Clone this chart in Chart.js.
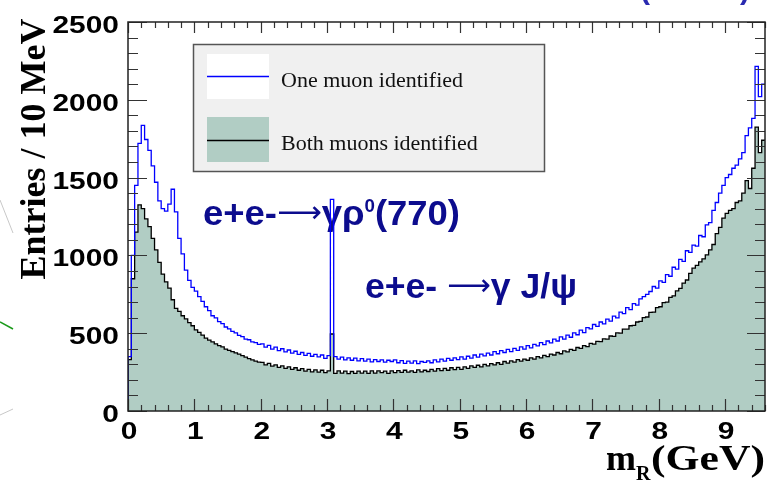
<!DOCTYPE html>
<html>
<head>
<meta charset="utf-8">
<script src="https://cdn.jsdelivr.net/npm/chart.js@4.4.1/dist/chart.umd.min.js"></script>
<style>
  html, body { margin: 0; padding: 0; background: #fff; }
</style>
</head>
<body>
<canvas id="massChart" width="768" height="481"></canvas>
<script>
// bins of 50 MeV from 0 to 9.6 GeV
const binWidth = 0.05;
const xMax = 9.6;

const oneMuon = [
  350, 1000, 1450, 1720, 1835, 1745, 1675, 1575, 1470, 1350,
  1300, 1285, 1330, 1425, 1280, 1110, 1010, 905, 840, 795,
  770, 735, 705, 670, 645, 612, 598, 575, 562, 540,
  528, 512, 502, 486, 478, 462, 458, 444, 440, 428,
  432, 410, 422, 398, 410, 388, 400, 380, 392, 372,
  384, 364, 376, 358, 370, 352, 364, 348, 360, 338,
  356, 1360, 350, 334, 346, 328, 342, 326, 340, 322,
  336, 320, 334, 316, 330, 318, 328, 314, 326, 318,
  328, 310, 324, 306, 320, 308, 322, 304, 318, 312,
  322, 310, 328, 316, 334, 320, 338, 326, 342, 330,
  348, 334, 352, 340, 360, 346, 366, 354, 372, 360,
  382, 368, 388, 376, 396, 382, 402, 390, 412, 398,
  420, 406, 428, 418, 440, 426, 450, 438, 462, 450,
  476, 462, 488, 474, 502, 490, 520, 504, 536, 528,
  556, 544, 572, 560, 590, 578, 610, 598, 636, 626,
  664, 652, 690, 680, 720, 735, 750, 768, 800, 790,
  836, 826, 876, 866, 924, 912, 974, 962, 1030, 1020,
  1066, 1060, 1128, 1120, 1196, 1210, 1290, 1340, 1400, 1450,
  1500, 1520, 1560, 1580, 1620, 1660, 1770, 1820, 1880, 2215,
  2020, 2100
];

const bothMuons = [
  330, 850, 1150, 1325, 1300, 1235, 1185, 1110, 1035, 955,
  880, 830, 790, 715, 660, 640, 612, 592, 568, 548,
  522, 505, 488, 468, 455, 444, 432, 420, 412, 398,
  390, 382, 374, 366, 356, 346, 336, 328, 320, 314,
  312, 296, 306, 288, 296, 280, 290, 274, 284, 268,
  278, 262, 272, 256, 268, 252, 264, 250, 262, 246,
  258, 495, 242, 258, 244, 256, 240, 254, 242, 256,
  244, 256, 242, 258, 244, 258, 246, 256, 242, 258,
  246, 260, 248, 262, 250, 258, 248, 264, 252, 262,
  254, 268, 256, 272, 260, 274, 262, 278, 266, 280,
  268, 284, 274, 290, 280, 294, 284, 300, 290, 304,
  296, 310, 300, 318, 308, 322, 314, 330, 320, 334,
  326, 342, 334, 350, 342, 358, 350, 366, 360, 376,
  368, 386, 380, 396, 390, 408, 402, 420, 414, 434,
  430, 448, 446, 464, 462, 482, 480, 502, 500, 526,
  526, 548, 550, 572, 576, 600, 604, 634, 636, 664,
  670, 696, 700, 730, 740, 772, 788, 822, 842, 884,
  918, 936, 958, 978, 1004, 1036, 1070, 1140, 1180, 1240,
  1270, 1290, 1300, 1340, 1350, 1400, 1480, 1430, 1560, 1825,
  1660, 1740
];

const xTickLabels = [0, 1, 2, 3, 4, 5, 6, 7, 8, 9];
const yTickLabels = [0, 500, 1000, 1500, 2000, 2500];
const seriesNames = ['One muon identified', 'Both muons identified'];

const BLUE = '#0000ff';
const FILL = '#b1cdc4';
const NAVY = '#0c0c8e';

function toSteps(values) {
  const pts = [{ x: 0, y: 0 }];
  values.forEach((v, i) => pts.push({ x: +(i * binWidth).toFixed(3), y: v }));
  pts.push({ x: xMax, y: values[values.length - 1] });
  return pts;
}

// draws text squeezed/stretched horizontally so it spans a given width
function drawFitted(ctx, parts, left, baseline, width, color) {
  ctx.save();
  let total = 0;
  parts.forEach(p => {
    ctx.font = p.font;
    p.w = ctx.measureText(p.text).width;
    total += p.w;
  });
  const sx = width ? width / total : 1;
  ctx.translate(left, baseline);
  ctx.scale(sx, 1);
  ctx.fillStyle = color;
  ctx.textAlign = 'left';
  ctx.textBaseline = 'alphabetic';
  let cx = 0;
  parts.forEach(p => {
    ctx.font = p.font;
    ctx.fillText(p.text, cx, p.dy || 0);
    cx += p.w;
  });
  ctx.restore();
}

function drawStretched(ctx, text, x, y, font, sx, align) {
  ctx.save();
  ctx.font = font;
  const w = ctx.measureText(text).width * sx;
  let left = x;
  if (align === 'right') left = x - w;
  if (align === 'center') left = x - w / 2;
  ctx.translate(left, y);
  ctx.scale(sx, 1);
  ctx.fillStyle = '#000';
  ctx.textAlign = 'left';
  ctx.fillText(text, 0, 0);
  ctx.restore();
}

const decorPlugin = {
  id: 'decor',
  beforeDatasetsDraw(chart) {
    const ctx = chart.ctx;
    const big = 'bold 35px "Liberation Sans", Arial, sans-serif';
    const arrow = '30px "DejaVu Sans", sans-serif';
    drawFitted(ctx, [
      { text: 'e+e-', font: big },
      { text: '\u27f6', font: arrow, dy: -3 },
      { text: '\u03b3\u03c1', font: big },
      { text: '0', font: 'bold 18px "Liberation Sans", Arial, sans-serif', dy: -13 },
      { text: '(770)', font: big }
    ], 203, 225, 257, NAVY);
    drawFitted(ctx, [
      { text: 'e+e- ', font: big },
      { text: '\u27f6', font: arrow, dy: -3 },
      { text: '\u03b3 J/\u03c8', font: big }
    ], 365, 298, 212, NAVY);
  },
  afterDatasetsDraw(chart) {
    const ctx = chart.ctx;
    const a = chart.chartArea;
    const xs = chart.scales.x, ys = chart.scales.y;
    ctx.save();
    ctx.strokeStyle = '#333';
    ctx.lineWidth = 1.2;
    ctx.beginPath();
    // x ticks, bottom and top
    for (let i = 0; i < xTickLabels.length; i++) {
      for (let k = 0; k < 5; k++) {
        const v = xTickLabels[i] + k * 0.2;
        if (v > xMax) break;
        const px = Math.round(xs.getPixelForValue(v)) + 0.5;
        const len = k === 0 ? 12 : 6;
        ctx.moveTo(px, a.bottom); ctx.lineTo(px, a.bottom - len);
        ctx.moveTo(px, a.top); ctx.lineTo(px, a.top + (k === 0 ? 11 : 6));
      }
    }
    // y ticks, left and right
    for (let i = 0; i < yTickLabels.length; i++) {
      for (let k = 0; k < 5; k++) {
        const v = yTickLabels[i] + k * 100;
        if (v > 2500) break;
        const py = Math.round(ys.getPixelForValue(v)) + 0.5;
        const len = k === 0 ? 19 : 10;
        ctx.moveTo(a.left, py); ctx.lineTo(a.left + len, py);
        ctx.moveTo(a.right, py); ctx.lineTo(a.right - (k === 0 ? 18 : 10), py);
      }
    }
    ctx.stroke();
    ctx.strokeStyle = '#222';
    ctx.lineWidth = 1.5;
    ctx.strokeRect(a.left, a.top, a.right - a.left, a.bottom - a.top);
    ctx.restore();
  },
  afterDraw(chart) {
    const ctx = chart.ctx;
    const xs = chart.scales.x, ys = chart.scales.y;
    const tickFont = 'bold 23px "Liberation Sans", Arial, sans-serif';
    ctx.save();
    ctx.textBaseline = 'alphabetic';
    yTickLabels.forEach(v => {
      drawStretched(ctx, String(v), 119, ys.getPixelForValue(v) + 11, tickFont, 1.3, 'right');
    });
    xTickLabels.forEach(v => {
      drawStretched(ctx, String(v), xs.getPixelForValue(v) + 1, 439, tickFont, 1.3, 'center');
    });

    // axis titles
    ctx.save();
    ctx.translate(45, 149);
    ctx.rotate(-Math.PI / 2);
    ctx.font = 'bold 36px "Liberation Serif", "Times New Roman", serif';
    ctx.fillStyle = '#000';
    ctx.textAlign = 'center';
    ctx.fillText('Entries / 10 MeV', 0, 0);
    ctx.restore();

    const serifB = 'bold 36px "Liberation Serif", "Times New Roman", serif';
    drawFitted(ctx, [{ text: 'm', font: serifB }], 606, 470, 0, '#000');
    drawFitted(ctx, [{ text: 'R', font: 'bold 20px "Liberation Serif", serif' }], 636, 480, 0, '#000');
    drawFitted(ctx, [{ text: '(GeV)', font: serifB }], 651, 470, 114, '#000');

    // legend panel
    ctx.fillStyle = '#f0f0f0';
    ctx.fillRect(193, 44, 351, 127);
    ctx.strokeStyle = '#555';
    ctx.lineWidth = 1.5;
    ctx.strokeRect(193.5, 44.5, 351, 127);
    ctx.fillStyle = '#fff';
    ctx.fillRect(207, 54, 62, 45);
    ctx.fillStyle = FILL;
    ctx.fillRect(207, 117, 62, 45);
    ctx.lineWidth = 1.5;
    ctx.strokeStyle = BLUE;
    ctx.beginPath(); ctx.moveTo(207, 76.5); ctx.lineTo(269, 76.5); ctx.stroke();
    ctx.strokeStyle = '#000';
    ctx.beginPath(); ctx.moveTo(207, 140.5); ctx.lineTo(269, 140.5); ctx.stroke();
    ctx.font = '22px "Liberation Serif", "Times New Roman", serif';
    ctx.fillStyle = '#111';
    ctx.textAlign = 'left';
    ctx.fillText(chart.data.datasets[0].label, 281, 87);
    ctx.fillText(chart.data.datasets[1].label, 281, 150);

    // clipped title remains at the top edge
    ctx.font = 'bold 30px "Liberation Sans", Arial, sans-serif';
    ctx.fillStyle = '#2a2ab0';
    ctx.fillText('(', 640, -1);
    ctx.fillText(')', 740, -1);

    // bits of neighbouring figures at the left border
    ctx.lineWidth = 1;
    ctx.strokeStyle = '#c8c8c8';
    ctx.beginPath(); ctx.moveTo(0, 200); ctx.lineTo(13, 233); ctx.stroke();
    ctx.beginPath(); ctx.moveTo(0, 415); ctx.lineTo(13, 409); ctx.stroke();
    ctx.strokeStyle = '#1a9a1a';
    ctx.lineWidth = 1.5;
    ctx.beginPath(); ctx.moveTo(0, 322); ctx.lineTo(13, 329); ctx.stroke();
    ctx.restore();
  }
};

new Chart(document.getElementById('massChart'), {
  type: 'line',
  data: {
    datasets: [{
      label: seriesNames[0],
      data: toSteps(oneMuon),
      borderColor: BLUE,
      borderWidth: 1.3,
      stepped: true,
      pointRadius: 0,
      fill: false
    }, {
      label: seriesNames[1],
      data: toSteps(bothMuons),
      borderColor: '#000',
      borderWidth: 1.3,
      backgroundColor: FILL,
      stepped: true,
      pointRadius: 0,
      fill: 'origin'
    }]
  },
  options: {
    responsive: false,
    animation: false,
    devicePixelRatio: 1,
    layout: { padding: { left: 128, top: 22, right: 3, bottom: 70 } },
    scales: {
      x: { type: 'linear', min: 0, max: xMax, display: false },
      y: { type: 'linear', min: 0, max: 2500, display: false }
    },
    plugins: {
      legend: { display: false },
      tooltip: { enabled: false }
    }
  },
  plugins: [decorPlugin]
});
</script>
</body>
</html>
